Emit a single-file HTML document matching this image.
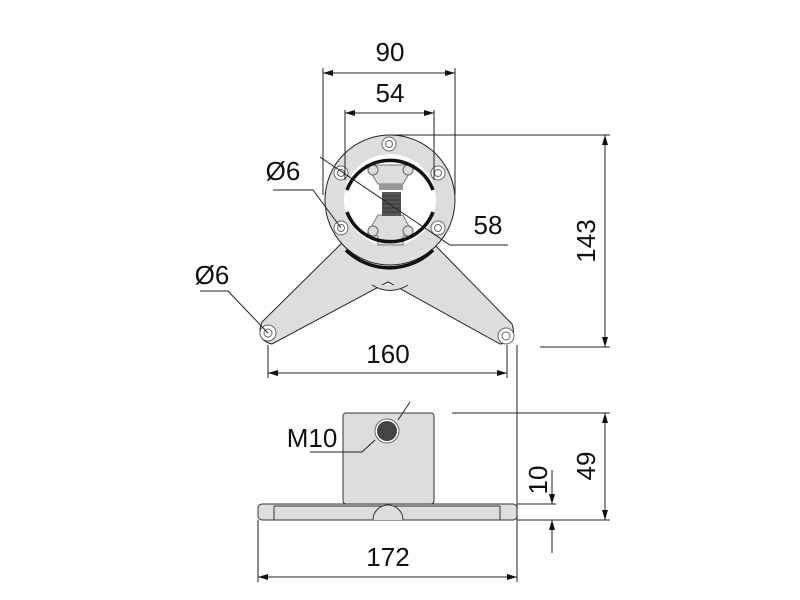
<!DOCTYPE html>
<html><head><style>body{margin:0;background:#fff}svg{display:block}text{font-family:"Liberation Sans",sans-serif;font-size:26px;fill:#111}</style></head><body>
<svg width="800" height="600" viewBox="0 0 800 600">
<defs><marker id="a" markerWidth="10" markerHeight="6" refX="10" refY="3" orient="auto-start-reverse" markerUnits="userSpaceOnUse"><path d="M0,0L10,3L0,6z" fill="#111"/></marker></defs>
<g stroke="#222" stroke-width="1" fill="#ddd">
<path d="M345,240 L262,322 Q255,340 272,344 L388,282 L500,344 Q518,342 512,324 L432,242 Z"/>
<path d="M372,285 Q390,296 408,285" fill="#ddd"/>
<circle cx="390" cy="200" r="65"/>
<circle cx="390" cy="200" r="46" fill="#fff" stroke="none"/>
</g>
<g stroke="#777" stroke-width="1" fill="#ddd">
<path d="M366,165 L414,165 L403,184 L378,184 Z"/>
<path d="M378,215 L403,215 L414,236 L403,236 L403,245 L378,245 L378,236 L366,236 Z"/>
</g>
<g fill="#fff" stroke="#666" stroke-width="1">
<circle cx="389" cy="144" r="7"/><circle cx="389" cy="144" r="3.5"/>
<circle cx="341" cy="173" r="7"/><circle cx="341" cy="173" r="3.5"/>
<circle cx="438" cy="173" r="7"/><circle cx="438" cy="173" r="3.5"/>
<circle cx="341" cy="228" r="7"/><circle cx="341" cy="228" r="3.5"/>
<circle cx="438" cy="228" r="7"/><circle cx="438" cy="228" r="3.5"/>
<circle cx="268" cy="333" r="8"/><circle cx="268" cy="333" r="4"/>
<circle cx="506" cy="336" r="8"/><circle cx="506" cy="336" r="4"/>
<circle cx="373" cy="170" r="5" fill="#ddd"/><circle cx="408" cy="170" r="5" fill="#ddd"/>
<circle cx="373" cy="231" r="5" fill="#ddd"/><circle cx="408" cy="231" r="5" fill="#ddd"/>
</g>
<rect x="379" y="184" width="24" height="6" fill="#999"/>
<rect x="382" y="192" width="19" height="24" fill="#555"/>
<g stroke="#333" stroke-width="1"><line x1="382" y1="196" x2="401" y2="196"/><line x1="382" y1="200" x2="401" y2="200"/><line x1="382" y1="204" x2="401" y2="204"/><line x1="382" y1="208" x2="401" y2="208"/><line x1="382" y1="212" x2="401" y2="212"/></g>
<g stroke="#111" stroke-width="3.5" fill="none">
<path d="M347,190 A46,46 0 0 1 433,190"/>
<path d="M347,212 A46,46 0 0 0 433,212"/>
<path d="M346,250 A62,62 0 0 0 433,250"/>
</g>
<g stroke="#333" stroke-width="1" fill="#ddd">
<rect x="343" y="413" width="91" height="91" rx="3"/>
<rect x="258" y="504" width="259" height="16" rx="4"/>
<line x1="274" y1="506" x2="274" y2="520"/><line x1="500" y1="506" x2="500" y2="520"/>
<line x1="274" y1="506" x2="500" y2="506"/>
<path d="M373,520 A15,15 0 0 1 403,520"/>
</g>
<circle cx="387" cy="431" r="12" fill="#fff" stroke="#666"/>
<circle cx="387" cy="431" r="10" fill="#444"/>
<g stroke="#222" stroke-width="1" fill="none">
<line x1="323" y1="68" x2="323" y2="195"/><line x1="455" y1="68" x2="455" y2="195"/>
<line x1="323" y1="73" x2="455" y2="73" marker-start="url(#a)" marker-end="url(#a)"/>
<line x1="345" y1="110" x2="345" y2="180"/><line x1="434" y1="110" x2="434" y2="180"/>
<line x1="345" y1="113" x2="434" y2="113" marker-start="url(#a)" marker-end="url(#a)"/>
<line x1="390" y1="135" x2="610" y2="135"/><line x1="540" y1="347" x2="610" y2="347"/>
<line x1="605" y1="135" x2="605" y2="347" marker-start="url(#a)" marker-end="url(#a)"/>
<line x1="268" y1="345" x2="268" y2="378"/><line x1="507" y1="345" x2="507" y2="378"/>
<line x1="268" y1="373" x2="507" y2="373" marker-start="url(#a)" marker-end="url(#a)"/>
<polyline points="273,190 313,190 341,228"/>
<polyline points="200,291 228,291 268,333"/>
<polyline points="320,157 450,245 508,245"/>
<polyline points="310,452 362,452 375,440"/>
<line x1="410" y1="402" x2="398" y2="420"/>
<line x1="452" y1="413" x2="610" y2="413"/><line x1="517" y1="520" x2="610" y2="520"/>
<line x1="517" y1="504" x2="556" y2="504"/>
<line x1="605" y1="413" x2="605" y2="520" marker-start="url(#a)" marker-end="url(#a)"/>
<line x1="552" y1="470" x2="552" y2="504" marker-end="url(#a)"/>
<line x1="552" y1="553" x2="552" y2="520" marker-end="url(#a)"/>
<line x1="258" y1="520" x2="258" y2="582"/><line x1="517" y1="345" x2="517" y2="582"/>
<line x1="258" y1="577" x2="517" y2="577" marker-start="url(#a)" marker-end="url(#a)"/>
</g>
<g text-anchor="middle">
<text x="390" y="61">90</text>
<text x="390" y="102">54</text>
<text x="388" y="363">160</text>
<text x="388" y="566">172</text>
<text x="283" y="180">Ø6</text>
<text x="212" y="284">Ø6</text>
<text x="488" y="234">58</text>
<text x="312" y="447">M10</text>
<text transform="translate(595,241) rotate(-90)">143</text>
<text transform="translate(595,466) rotate(-90)">49</text>
<text transform="translate(547,480) rotate(-90)">10</text>
</g>
</svg>
</body></html>
